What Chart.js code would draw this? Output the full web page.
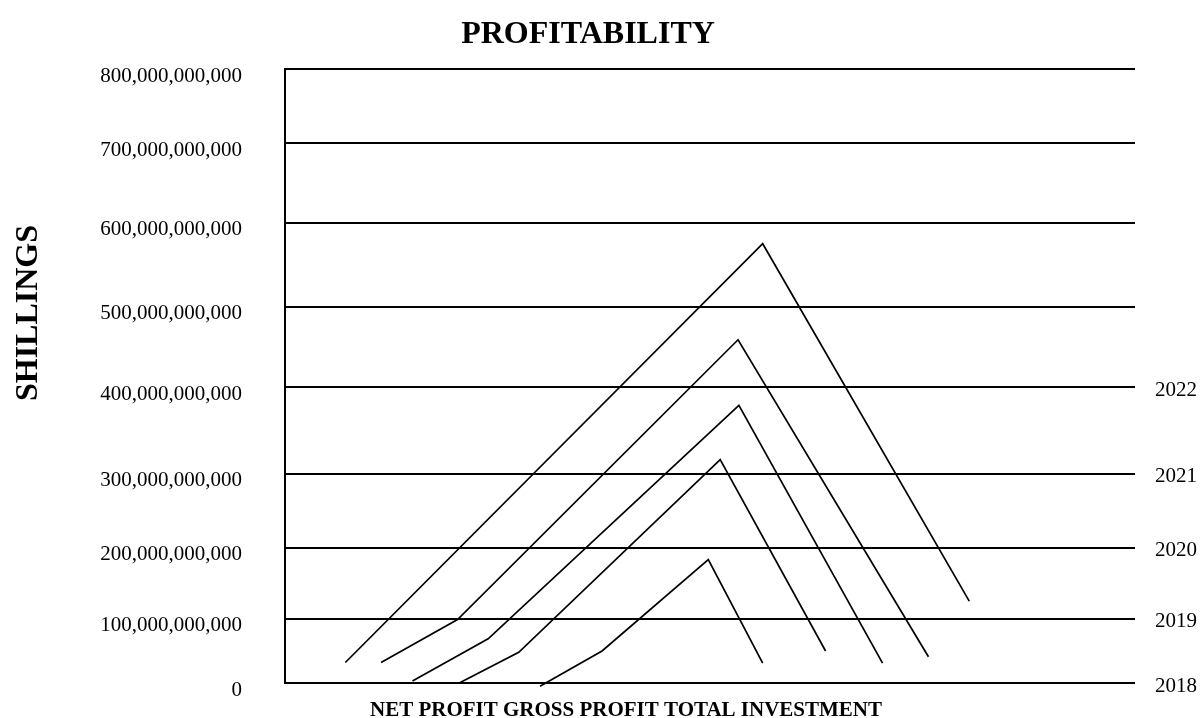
<!DOCTYPE html>
<html>
<head>
<meta charset="utf-8">
<title>Profitability</title>
<script src="https://cdn.jsdelivr.net/npm/chart.js@4/dist/chart.umd.min.js"></script>
<style>
  html, body { margin: 0; padding: 0; background: #ffffff; }
  #wrap { position: relative; width: 1200px; height: 718px; }
</style>
</head>
<body>
<div id="wrap"><canvas id="chart"></canvas></div>
<script>
// Year labels shown against the lower gridlines on the right
const years = ['2018', '2019', '2020', '2021', '2022'];

// Value-axis ticks (shillings) and the ticks that carry a year label
const yTickValues = [0, 1e11, 2e11, 3e11, 4e11, 5e11, 6e11, 7e11, 8e11];
const yearTickValues = [0, 1e11, 2e11, 3e11, 4e11];

// Each year's trace: positions along the hidden horizontal axis (0-10)
// and values in billions of shillings
const pos2022 = [0.71, 5.62, 8.05];
const val2022 = [32, 575, 125];
const pos2021 = [1.13, 2.03, 5.33, 7.57];
const val2021 = [32, 99, 459, 41];
const pos2020 = [1.50, 2.39, 5.34, 7.03];
const val2020 = [3, 69, 379, 31];
const pos2019 = [2.05, 2.75, 5.12, 6.36];
const val2019 = [0, 48, 316, 50];
const pos2018 = [3.00, 3.73, 4.98, 5.62];
const val2018 = [-5, 50, 183, 31];

const traces = [
  { year: '2022', pos: pos2022, val: val2022 },
  { year: '2021', pos: pos2021, val: val2021 },
  { year: '2020', pos: pos2020, val: val2020 },
  { year: '2019', pos: pos2019, val: val2019 },
  { year: '2018', pos: pos2018, val: val2018 }
];

// Where each 100-billion gridline sits, as a fraction of the axis height
const GRID_STOPS = [0, 0.1043, 0.2206, 0.3412, 0.4818, 0.6127, 0.7496, 0.8789, 1];
const GRID_STEP = 1e11;

// Linear scale whose gridlines are unevenly spaced; values map piecewise between them
class SteppedScale extends Chart.LinearScale {
  getPixelForValue(value) {
    if (value === null || value === undefined) return NaN;
    const v = (value - this.min) / GRID_STEP;
    const n = GRID_STOPS.length - 1;
    const i = Math.max(0, Math.min(n - 1, Math.floor(v)));
    const f = GRID_STOPS[i] + (v - i) * (GRID_STOPS[i + 1] - GRID_STOPS[i]);
    return this.getPixelForDecimal(f);
  }
  getValueForPixel(pixel) {
    const f = this.getDecimalForPixel(pixel);
    const n = GRID_STOPS.length - 1;
    let i = 0;
    while (i < n - 1 && f > GRID_STOPS[i + 1]) i++;
    const t = (f - GRID_STOPS[i]) / (GRID_STOPS[i + 1] - GRID_STOPS[i]);
    return this.min + (i + t) * GRID_STEP;
  }
}
SteppedScale.id = 'stepped';
SteppedScale.defaults = Object.assign({}, Chart.LinearScale.defaults);
Chart.register(SteppedScale);

const SERIF = "'Liberation Serif', 'Times New Roman', serif";

// Free-standing captions: chart title, value-axis title, category caption
const CAPTIONS = [
  { text: 'PROFITABILITY', x: 588, y: 43, rotate: 0, font: 'bold 32px ' + SERIF },
  { text: 'SHILLINGS', x: 37, y: 313, rotate: -Math.PI / 2, font: 'bold 32px ' + SERIF },
  { text: 'NET PROFIT GROSS PROFIT TOTAL INVESTMENT', x: 626, y: 716, rotate: 0, font: 'bold 21px ' + SERIF }
];

const captionPlugin = {
  id: 'captions',
  afterDraw(chart) {
    const ctx = chart.ctx;
    CAPTIONS.forEach(c => {
      ctx.save();
      ctx.translate(c.x, c.y);
      ctx.rotate(c.rotate);
      ctx.font = c.font;
      ctx.fillStyle = '#000';
      ctx.textAlign = 'center';
      ctx.textBaseline = 'alphabetic';
      ctx.fillText(c.text, 0, 0);
      ctx.restore();
    });
  }
};

const datasets = traces.map(t => ({
  label: t.year,
  data: t.pos.map((p, i) => ({ x: p, y: t.val[i] * 1e9 })),
  borderColor: '#000',
  borderWidth: 1.7,
  pointRadius: 0,
  pointHoverRadius: 0,
  tension: 0,
  fill: false,
  clip: false
}));

const formatShillings = v => Math.round(v).toLocaleString('en-US');

new Chart(document.getElementById('chart'), {
  type: 'line',
  data: { datasets },
  options: {
    responsive: true,
    maintainAspectRatio: false,
    animation: false,
    layout: { padding: { top: 69, bottom: 35, left: 0, right: 0 } },
    plugins: {
      legend: { display: false },
      title: { display: false },
      tooltip: { enabled: false }
    },
    scales: {
      x: {
        type: 'linear',
        min: 0,
        max: 10,
        display: false
      },
      y: {
        type: 'stepped',
        position: 'left',
        min: 0,
        max: 8e11,
        afterBuildTicks: s => { s.ticks = yTickValues.map(v => ({ value: v })); },
        afterFit: s => { s.width = 285; },
        // invisible tick marks keep the labels clear of the axis line
        grid: { color: '#000', lineWidth: 2, drawTicks: true, tickLength: 33, tickColor: 'rgba(0,0,0,0)' },
        border: { display: true, color: '#000', width: 2 },
        ticks: {
          padding: 10,
          labelOffset: 7,
          color: '#000',
          font: { family: SERIF, size: 21 },
          callback: v => formatShillings(v)
        }
      },
      years: {
        type: 'stepped',
        position: 'right',
        min: 0,
        max: 8e11,
        afterBuildTicks: s => { s.ticks = yearTickValues.map(v => ({ value: v })); },
        afterFit: s => { s.width = 65; },
        grid: { display: false, drawTicks: false },
        border: { display: false },
        ticks: {
          padding: 20,
          labelOffset: 3,
          color: '#000',
          font: { family: SERIF, size: 21 },
          callback: v => years[yearTickValues.indexOf(v)] || ''
        }
      }
    }
  },
  plugins: [captionPlugin]
});
</script>
</body>
</html>
